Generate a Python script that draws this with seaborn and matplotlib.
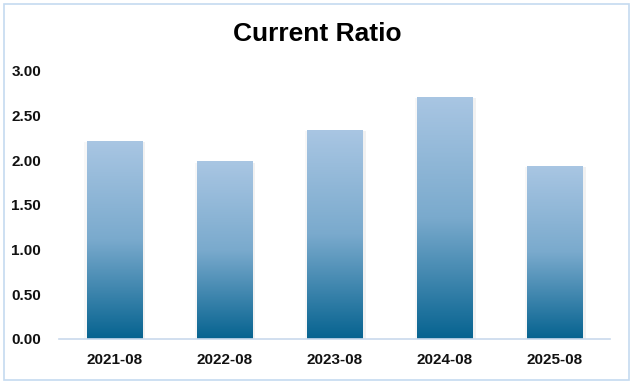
import numpy as np
import pandas as pd
import matplotlib
matplotlib.use("Agg")
import matplotlib.pyplot as plt
import seaborn as sns
from matplotlib.colors import LinearSegmentedColormap
from matplotlib.patches import Rectangle
import matplotlib.patheffects as pe

periods = ["2021-08", "2022-08", "2023-08", "2024-08", "2025-08"]
current_ratio = [2.22, 1.99, 2.34, 2.71, 1.94]
y_ticks = [0.0, 0.5, 1.0, 1.5, 2.0, 2.5, 3.0]
title = "Current Ratio"

df = pd.DataFrame({"period": periods, "ratio": current_ratio})

sns.set_theme(style="white")
plt.rcParams["font.family"] = ["Liberation Sans", "DejaVu Sans"]

fig = plt.figure(figsize=(6.34, 3.83), dpi=100)
ax = fig.add_axes([59 / 634, 44 / 383, (610 - 59) / 634, (339 - 71) / 383])

sns.barplot(data=df, x="period", y="ratio", ax=ax, width=0.5,
            color="#a9c6e3", saturation=1, edgecolor="none")

cmap = LinearSegmentedColormap.from_list(
    "grad", [(0.0, "#066390"), (0.5, "#7aaacd"), (1.0, "#a9c6e3")])
grad = np.linspace(0, 1, 256).reshape(-1, 1)

for p in list(ax.patches):
    x0, w, h = p.get_x(), p.get_width(), p.get_height()
    p.set_path_effects([
        pe.SimplePatchShadow(offset=(2.5, -1), alpha=0.10, shadow_rgbFace="#777777"),
        pe.SimplePatchShadow(offset=(-1.5, -1), alpha=0.06, shadow_rgbFace="#777777"),
        pe.Normal()])
    im = ax.imshow(grad, cmap=cmap, aspect="auto", origin="lower",
                   extent=(x0, x0 + w, 0, h), zorder=p.get_zorder() + 0.1,
                   interpolation="bilinear")
    im.set_clip_path(p)

ax.set_xlim(-0.5, 4.5)
ax.set_ylim(0, 3.0)
ax.set_yticks(y_ticks)
ax.set_yticklabels([f"{v:.2f}" for v in y_ticks])
ax.set_xlabel("")
ax.set_ylabel("")
for s in ["top", "right", "left"]:
    ax.spines[s].set_visible(False)
ax.spines["bottom"].set_color("#c9d9ec")
ax.spines["bottom"].set_linewidth(1.2)
ax.tick_params(axis="both", length=0, labelsize=11)
ax.tick_params(axis="y", pad=13)
ax.tick_params(axis="x", pad=10)
for lbl in ax.get_xticklabels() + ax.get_yticklabels():
    lbl.set_fontweight("bold")
    lbl.set_color("#111111")
ax.grid(False)

fig.text(0.5, 1 - 34 / 383, title, ha="center", va="center",
         fontsize=19, fontweight="bold", color="#000000")

border = Rectangle((4 / 634, 3 / 383), 625 / 634, 376 / 383, transform=fig.transFigure,
                   fill=False, edgecolor="#c5daf0", linewidth=1.2)
fig.patches.append(border)

fig.savefig("out.png", dpi=100)
